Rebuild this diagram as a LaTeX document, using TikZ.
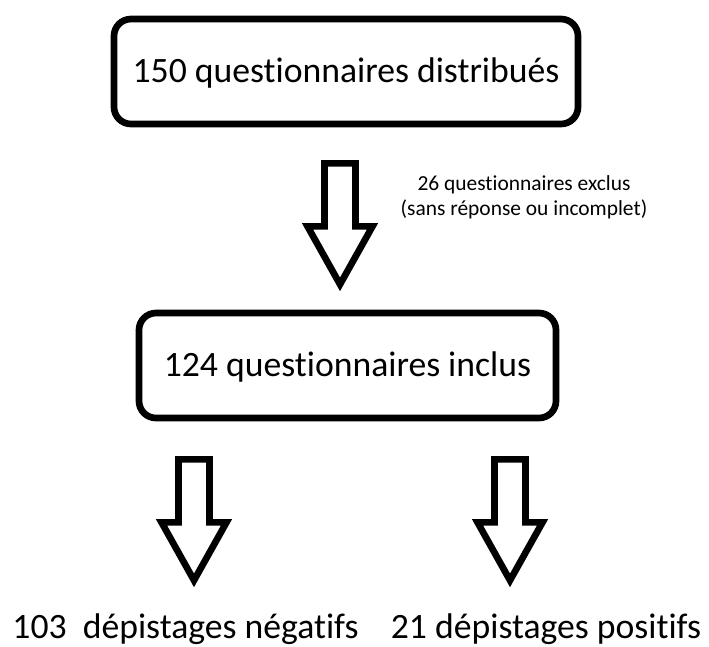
\documentclass[tikz,border=0pt]{standalone}
\usepackage{fontspec}
\setmainfont{Carlito}[Ligatures=CommonOff]
\usetikzlibrary{calc}
\tikzset{boite/.style={draw, line width=3.8pt, rounded corners=0.34cm, minimum height=2.1cm, text height=13pt, text depth=0pt, font=\fontsize{20.3}{24}\selectfont},
  resultat/.style={anchor=base, inner sep=0pt, font=\fontsize{20.3}{24}\selectfont},
  remarque/.style={align=center, inner sep=0pt, font=\fontsize{12.2}{14.4}\selectfont},
  fleche/.pic={\draw[line width=3.8pt] (-0.31,0) -- (-0.31,-1.26) -- (-0.65,-1.26) -- (0,-2.42) -- (0.65,-1.26) -- (0.31,-1.26) -- (0.31,0) -- cycle;}}

\begin{document}
\begin{tikzpicture}
     \useasboundingbox (0,0) rectangle (14.18,-12.92);
     % les deux boites
     \node[boite, minimum width=9.28cm] (distrib) at (6.92,-1.43) {150 questionnaires distribués};
     \node[boite, minimum width=8.34cm] (inclus) at (6.95,-7.31) {124 questionnaires inclus};
     % exclus
     \node[remarque] (exclus) at (10.48,-3.94) {26 questionnaires exclus\\(sans réponse ou incomplet)};
     % fleches
     \pic at ($(distrib.south)+(-0.12,-0.72)$) {fleche};
     \pic at ($(inclus.south)+(-3.07,-0.76)$) {fleche};
     \pic at ($(inclus.south)+(3.25,-0.76)$) {fleche};
     % depistages
     \node[resultat] (negatif) at (3.71,-12.76) {103\ \ dépistages négatifs};
     \node[resultat] (positif) at (10.92,-12.76) {21 dépistages positifs};
    \end{tikzpicture}
\end{document}
